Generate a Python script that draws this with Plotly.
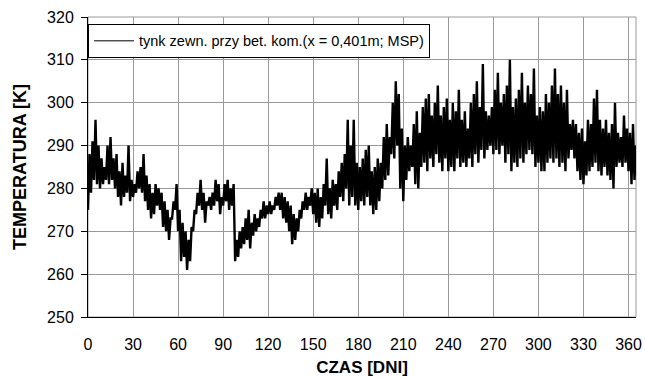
import plotly.graph_objects as go

# 2-day bins: lowest / highest temperature (K)
bin_start_day = list(range(0, 365, 2))
low_K = [
    275, 279, 282, 281, 280, 281, 282, 281, 282, 280,   # 0-18
    278, 276, 278, 279, 277, 278, 279, 280, 279, 277,   # 20-38
    275, 273, 274, 276, 275, 271, 270, 268, 273, 275,   # 40-58
    270, 263, 264, 261, 263, 270, 274, 276, 275, 272,   # 60-78
    276, 275, 276, 277, 274, 276, 277, 275, 276, 263,   # 80-98
    264, 266, 267, 268, 266, 269, 270, 271, 273, 273,   # 100-118
    274, 274, 275, 276, 275, 273, 272, 270, 267, 268,   # 120-138
    270, 273, 275, 275, 276, 274, 272, 271, 273, 276,   # 140-158
    274, 273, 276, 275, 278, 277, 280, 276, 278, 276,   # 160-178
    275, 277, 276, 278, 276, 274, 275, 277, 280, 282,   # 180-198
    283, 288, 287, 290, 280, 277, 282, 284, 285, 281,   # 200-218
    280, 285, 286, 284, 287, 285, 288, 286, 284, 287,   # 220-238
    284, 285, 284, 287, 285, 286, 285, 287, 285, 288,   # 240-258
    286, 289, 287, 289, 290, 288, 289, 288, 290, 286,   # 260-278
    288, 284, 286, 285, 287, 286, 288, 289, 288, 285,   # 280-298
    286, 284, 284, 286, 287, 286, 287, 285, 286, 284,   # 300-318
    287, 289, 287, 284, 282, 281, 283, 284, 285, 286,   # 320-338
    284, 283, 285, 283, 282, 280, 285, 286, 285, 286,   # 340-358
    284, 281, 282,                                      # 360-364
]
high_K = [
    288, 291, 296, 290, 287, 285, 290, 292, 287, 288,
    284, 286, 283, 290, 282, 281, 284, 285, 288, 283,
    281, 279, 281, 280, 279, 277, 275, 273, 277, 281,
    275, 272, 270, 268, 271, 275, 279, 282, 279, 277,
    278, 279, 282, 281, 278, 281, 282, 280, 281, 268,
    270, 271, 273, 275, 272, 274, 273, 275, 277, 276,
    277, 276, 278, 279, 279, 278, 277, 276, 274, 273,
    275, 277, 279, 278, 280, 279, 280, 278, 281, 287,
    280, 282, 281, 284, 286, 288, 296, 290, 296, 286,
    285, 287, 289, 290, 284, 285, 287, 286, 292, 295,
    292, 300, 305, 302, 294, 290, 292, 290, 295, 298,
    293, 299, 301, 302, 297, 300, 304, 297, 299, 301,
    296, 300, 298, 303, 296, 298, 294, 300, 302, 305,
    299, 309, 298, 297, 299, 303, 307, 300, 302, 304,
    310, 299, 301, 303, 307, 300, 304, 302, 308, 297,
    299, 298, 302, 300, 304, 308, 302, 304, 300, 303,
    295, 296, 295, 293, 294, 291, 296, 295, 301, 303,
    296, 294, 296, 293, 295, 300, 293, 292, 297, 294,
    293, 295, 290,
]

x_tick_vals = list(range(0, 361, 30))
y_tick_vals = list(range(250, 321, 10))
series_name = "tynk zewn. przy bet. kom.(x = 0,401m; MSP)"

xs, ys = [], []
for d, lo, hi in zip(bin_start_day, low_K, high_K):
    xs += [d, d + 1]
    ys += [lo, hi]

font = "Liberation Sans, Arial, sans-serif"
fig = go.Figure()
fig.add_trace(go.Scatter(x=xs, y=ys, mode="lines", name=series_name,
                         line=dict(color="black", width=2.4), showlegend=False,
                         legendgroup="s"))
# legend entry (thin line like the original legend sample)
fig.add_trace(go.Scatter(x=[None], y=[None], mode="lines", name=series_name,
                         line=dict(color="black", width=1), showlegend=True,
                         legendgroup="s"))

fig.update_layout(
    width=645, height=377,
    margin=dict(l=88, r=9, t=17, b=60),
    paper_bgcolor="white", plot_bgcolor="white",
    font=dict(family=font, size=16, color="black"),
    showlegend=True,
    legend=dict(x=0, y=0.977, xanchor="left", yanchor="top",
                bgcolor="white", bordercolor="black", borderwidth=1,
                font=dict(size=14.5, family=font), entrywidth=372,
                itemwidth=40),
    xaxis=dict(range=[0, 365], tickvals=x_tick_vals, showgrid=True,
               gridcolor="#9a9a9a", gridwidth=1, zeroline=False,
               showline=True, linecolor="black", linewidth=1,
               ticks="", ticklabelstandoff=13, automargin=False,
               title=dict(text="<b>CZAS [DNI]</b>", font=dict(size=17), standoff=10)),
    yaxis=dict(range=[250, 320], tickvals=y_tick_vals, showgrid=True,
               gridcolor="#9a9a9a", gridwidth=1, zeroline=False,
               showline=True, linecolor="black", linewidth=1,
               ticks="outside", ticklen=6, tickcolor="black",
               ticklabelstandoff=4, automargin=False,
               title=dict(text="<b>TEMPERATURA [K]</b>", font=dict(size=18), standoff=15)),
)
fig.add_shape(type="rect", xref="paper", yref="paper", x0=0, x1=1, y0=0, y1=1,
              line=dict(color="#9a9a9a", width=1), layer="below")
fig.write_html("out.html")
